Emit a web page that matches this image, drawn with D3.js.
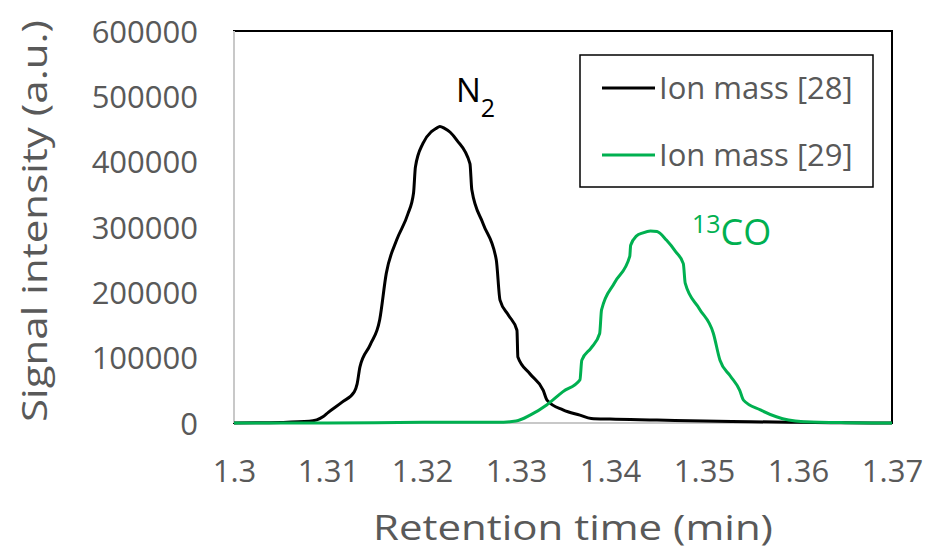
<!DOCTYPE html>
<html>
<head>
<meta charset="utf-8">
<script src="https://cdn.jsdelivr.net/npm/d3@7"></script>
<style>
  body { margin: 0; background: #fff; }
  text { font-family: "Open Sans", sans-serif; }
</style>
</head>
<body>
<script>
// data
var n2Time = [1.300, 1.305, 1.308, 1.3095, 1.3100, 1.3115, 1.3128, 1.3131, 1.3134, 1.3145, 1.3155, 1.3162,
              1.3173, 1.3185, 1.3191, 1.3193, 1.3201, 1.3210, 1.3215, 1.3219, 1.3224, 1.3230, 1.3237, 1.3251,
              1.3253, 1.3265, 1.3279, 1.3283, 1.3292, 1.3301, 1.3302, 1.3315, 1.3329, 1.3333, 1.3350, 1.3368,
              1.3380, 1.3400, 1.3450, 1.3500, 1.3550, 1.3600, 1.3650, 1.3700];
var n2Signal = [0, 800, 2500, 10000, 16000, 32000, 48000, 60000, 86000, 120000, 158000, 229000,
                280000, 320000, 352000, 392000, 428000, 446000, 451000, 454000, 451000, 445000, 433000, 397000,
                357000, 305000, 250000, 188000, 165000, 142000, 101000, 75000, 50000, 35000, 20000, 12000,
                7000, 6000, 4600, 3000, 2000, 1000, 300, 0];

var coTime = [1.300, 1.310, 1.320, 1.328, 1.3300, 1.3315, 1.3333, 1.3350, 1.3368, 1.3370, 1.3380, 1.3389,
              1.3391, 1.3405, 1.3421, 1.3422, 1.3428, 1.3435, 1.3443, 1.3450, 1.3460, 1.3470, 1.3478, 1.3480,
              1.3495, 1.3510, 1.3517, 1.3528, 1.3538, 1.3542, 1.3560, 1.3577, 1.3590, 1.3606, 1.3650, 1.3700];
var coSignal = [0, 0, 1000, 1000, 3000, 12000, 28000, 48000, 66000, 96000, 115000, 137000,
                173000, 215000, 255000, 272000, 286000, 291000, 294000, 293000, 280000, 262000, 244000, 214000,
                175000, 137000, 96000, 72000, 50000, 35000, 20000, 9600, 4500, 2000, 500, 0];

var xTicks = [1.3, 1.31, 1.32, 1.33, 1.34, 1.35, 1.36, 1.37];
var yTicks = [0, 100000, 200000, 300000, 400000, 500000, 600000];
var seriesNames = ["Ion mass [28]", "Ion mass [29]"];
var seriesColors = ["#000000", "#00b050"];

var W = 930, H = 553;
var plot = {left: 234, right: 892, top: 31, bottom: 423};

var svg = d3.select("body").append("svg")
    .attr("width", W)
    .attr("height", H);

var x = d3.scaleLinear().domain([1.3, 1.37]).range([plot.left, plot.right]);
var y = d3.scaleLinear().domain([0, 600000]).range([plot.bottom, plot.top]);

// plot frame: black top/right, grey axes
svg.append("rect")
    .attr("x", plot.left).attr("y", plot.top)
    .attr("width", plot.right - plot.left).attr("height", plot.bottom - plot.top)
    .attr("fill", "none").attr("stroke", "#000").attr("stroke-width", 2);
svg.append("line")
    .attr("x1", plot.left).attr("x2", plot.left)
    .attr("y1", plot.top).attr("y2", plot.bottom)
    .attr("stroke", "#c8c8c8").attr("stroke-width", 2);
svg.append("line")
    .attr("x1", plot.left).attr("x2", plot.right)
    .attr("y1", plot.bottom).attr("y2", plot.bottom)
    .attr("stroke", "#c8c8c8").attr("stroke-width", 2);

// axes (labels only)
var yAxis = svg.append("g")
    .attr("transform", "translate(" + (plot.left - 36) + ",0)")
    .call(d3.axisLeft(y).tickValues(yTicks).tickSize(0).tickFormat(d3.format("d")));
yAxis.select(".domain").remove();
yAxis.selectAll("text")
    .attr("x", 0).attr("dy", "0.36em")
    .style("font-size", "31px").attr("fill", "#595959")
    .style("font-family", "'Open Sans', sans-serif");

var xAxis = svg.append("g")
    .attr("transform", "translate(0," + plot.bottom + ")")
    .call(d3.axisBottom(x).tickValues(xTicks).tickSize(0).tickFormat(function(d) { return d3.format("")(+d.toFixed(2)); }));
xAxis.select(".domain").remove();
xAxis.selectAll("text")
    .attr("y", 59).attr("dy", 0)
    .style("font-size", "31px").attr("fill", "#595959")
    .style("font-family", "'Open Sans', sans-serif");

// axis titles
svg.append("text")
    .attr("x", 573).attr("y", 540)
    .attr("text-anchor", "middle")
    .attr("fill", "#595959")
    .attr("textLength", 400)
    .attr("lengthAdjust", "spacingAndGlyphs")
    .style("font-size", "35px")
    .text("Retention time (min)");

svg.append("text")
    .attr("transform", "translate(47,221) rotate(-90)")
    .attr("text-anchor", "middle")
    .attr("fill", "#595959")
    .attr("textLength", 402)
    .attr("lengthAdjust", "spacingAndGlyphs")
    .style("font-size", "35px")
    .text("Signal intensity (a.u.)");

// lines
var line = d3.line()
    .curve(d3.curveMonotoneX)
    .x(function(d) { return x(d[0]); })
    .y(function(d) { return y(d[1]); });

var series = [
  d3.zip(n2Time, n2Signal),
  d3.zip(coTime, coSignal)
];

svg.selectAll(".series")
    .data(series)
  .enter().append("path")
    .attr("class", "series")
    .attr("d", line)
    .attr("fill", "none")
    .attr("stroke", function(d, i) { return seriesColors[i]; })
    .attr("stroke-width", 3)
    .attr("stroke-linejoin", "round");

// peak labels
var n2 = svg.append("text")
    .attr("x", 456).attr("y", 102)
    .attr("fill", "#000")
    .style("font-size", "33px");
n2.append("tspan").text("N");
n2.append("tspan").attr("dy", 15).style("font-size", "25px").text("2");

var co = svg.append("text")
    .attr("x", 692).attr("y", 245)
    .attr("fill", "#00b050")
    .style("font-size", "36px");
co.append("tspan").attr("dy", -12).style("font-size", "25px").text("13");
co.append("tspan").attr("dy", 12).text("CO");

// legend
var legend = svg.append("g");
legend.append("rect")
    .attr("x", 580).attr("y", 55)
    .attr("width", 293).attr("height", 132)
    .attr("fill", "#fff").attr("stroke", "#000").attr("stroke-width", 1.5);

var item = legend.selectAll(".item")
    .data(seriesNames)
  .enter().append("g")
    .attr("class", "item")
    .attr("transform", function(d, i) { return "translate(0," + (88 + i * 67) + ")"; });
item.append("line")
    .attr("x1", 602).attr("x2", 655)
    .attr("stroke", function(d, i) { return seriesColors[i]; })
    .attr("stroke-width", 3);
item.append("text")
    .attr("x", 659).attr("dy", "0.36em")
    .attr("fill", "#595959")
    .style("font-size", "31px")
    .text(function(d) { return d; });
</script>
</body>
</html>
